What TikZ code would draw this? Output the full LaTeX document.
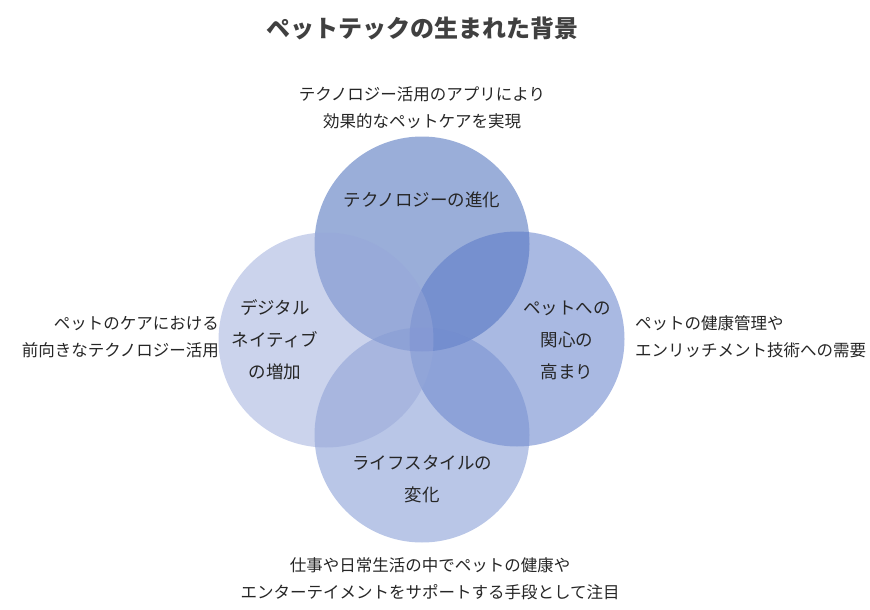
\documentclass[tikz,border=0pt]{standalone}
\usepackage{fontspec}
\setmainfont{Noto Sans CJK JP}
\usepackage{tikz}
\definecolor{techblue}{HTML}{355DB3}
\definecolor{interestblue}{HTML}{5373C5}
\definecolor{lifeblue}{HTML}{738DCF}
\definecolor{nativeblue}{HTML}{97A7D9}
\definecolor{titlegray}{HTML}{404040}
\definecolor{textgray}{HTML}{262626}

\begin{document}
\begin{tikzpicture}[
    x=1pt,
    y=-1pt,
    venn/.style={
        circle,
        draw=none,
        fill opacity=0.5,
        minimum size=215pt,
        inner sep=0pt
    },
    circlelabel/.style={
        align=center,
        text=textgray,
        font=\fontsize{17.5pt}{32pt}\selectfont,
        inner sep=0pt
    },
    note/.style={
        text=textgray,
        font=\fontsize{16.5pt}{27pt}\selectfont,
        inner sep=0pt
    }
]

\useasboundingbox (0,0) rectangle (870,610);

\node[text=titlegray, font=\fontsize{24pt}{28pt}\selectfont\bfseries] (title) at (422,28)
{ペットテックの生まれた背景};

% circles, drawn back to front
\node[venn, fill=techblue] (tech) at (422,244) {};
\node[venn, fill=interestblue] (interest) at (517,339) {};
\node[venn, fill=lifeblue] (life) at (422,435) {};
\node[venn, fill=nativeblue] (native) at (326,340) {};

\node[circlelabel] (techLabel) at (422,200)
{テクノロジーの進化};

\node[circlelabel] (nativeLabel) at (275,340)
{デジタル\\ネイティブ\\の増加};

\node[circlelabel] (interestLabel) at (567,340)
{ペットへの\\関心の\\高まり};

\node[circlelabel] (lifeLabel) at (422,479)
{ライフスタイルの\\変化};

\node[note, align=center] (techNote) at (422,108)
{テクノロジー活用のアプリにより\\効果的なペットケアを実現};

\node[note, align=right, anchor=east] (nativeNote) at (219,337)
{ペットのケアにおける\\前向きなテクノロジー活用};

\node[note, align=left, anchor=west] (interestNote) at (635,337)
{ペットの健康管理や\\エンリッチメント技術への需要};

\node[note, align=center] (lifeNote) at (430,579)
{仕事や日常生活の中でペットの健康や\\エンターテイメントをサポートする手段として注目};

\end{tikzpicture}
\end{document}
